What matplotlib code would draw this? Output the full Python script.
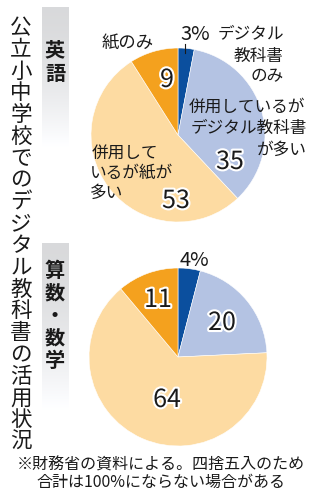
import numpy as np
import matplotlib.pyplot as plt
import matplotlib.patheffects as pe

plt.rcParams['font.family'] = ['Noto Sans CJK JP', 'DejaVu Sans']

# 公立小中学校でのデジタル教科書の活用状況（％）
categories = ['デジタル教科書のみ', '併用しているがデジタル教科書が多い',
              '併用しているが紙が多い', '紙のみ']
english = [3, 35, 53, 9]
math = [4, 20, 64, 11]
colors = ['#0b4f9e', '#b4c3e3', '#fddba2', '#f4a11e']

title = '公立小中学校でのデジタル教科書の活用状況'
subjects = ['英語', '算数・数学']
note = '※財務省の資料による。四捨五入のため\n合計は100%にならない場合がある'

W, H = 322, 500
fig = plt.figure(figsize=(W / 100, H / 100), dpi=100)
ink = '#1a1a1a'


def px(x, y):
    return x / W, 1 - y / H


def put(x, y, s, size, **kw):
    fig.text(*px(x, y), s, fontsize=size, color=ink, **kw)


def vertical(x, y0, pitch, s, size, **kw):
    for i, ch in enumerate(s):
        put(x, y0 + i * pitch, ch, size, ha='center', va='center', **kw)


def draw_pie(cx, cy, r, values):
    ax = fig.add_axes([(cx - r) / W, 1 - (cy + r) / H, 2 * r / W, 2 * r / H])
    ax.pie(values, colors=colors, startangle=90, counterclock=False, radius=1,
           wedgeprops=dict(linewidth=0.4, edgecolor='white'))
    ax.set_xlim(-1, 1)
    ax.set_ylim(-1, 1)
    ax.axis('off')
    return ax


# 科目ラベルの背景（上から白へのグラデーション）
grad = np.linspace(0, 1, 256).reshape(-1, 1)
for top, bottom in [(7, 147), (243, 410)]:
    bx = fig.add_axes([42 / W, 1 - bottom / H, 27 / W, (bottom - top) / H])
    shade = 0.85 + 0.15 * grad ** 1.6
    bx.imshow(np.dstack([shade, shade + 0.003, shade + 0.01]).clip(0, 1),
              aspect='auto', extent=[0, 1, 0, 1])
    bx.axis('off')

vertical(21, 28, 21.8, title, 15.5)
vertical(55, 50, 23, subjects[0], 14.5, fontweight='bold')
vertical(55, 270, 22.7, subjects[1], 14.5, fontweight='bold')

halo = [pe.withStroke(linewidth=3, foreground='white')]
lab = 12
num = 18

# 英語
draw_pie(178, 135, 87, english)
put(195, 34, f'{english[0]}%', 14.5, ha='center', va='center')
fig.add_artist(plt.Line2D([185 / W, 185 / W], [1 - 44 / H, 1 - 53 / H],
                          color=ink, linewidth=0.8))
put(284, 34, 'デジタル', lab, ha='right', va='center')
put(284, 56, '教科書', lab, ha='right', va='center')
put(284, 77, 'のみ', lab, ha='right', va='center')
put(128, 43, '紙のみ', lab + 0.5, ha='center', va='center')
put(167, 80, f'{english[3]}', num, ha='center', va='center', path_effects=halo)
put(305, 107, '併用しているが', lab, ha='right', va='center')
put(307, 128, 'デジタル教科書', lab, ha='right', va='center')
put(307, 150, 'が多い', lab, ha='right', va='center')
put(230, 162, f'{english[1]}', num, ha='center', va='center', path_effects=halo)
put(92, 153, '併用して', lab, ha='left', va='center')
put(90, 173, 'いるが紙が', lab, ha='left', va='center')
put(90, 193, '多い', lab, ha='left', va='center')
put(176, 201, f'{english[2]}', num, ha='center', va='center', path_effects=halo)

# 算数・数学
draw_pie(178, 357, 89, math)
put(194, 260, f'{math[0]}%', 14.5, ha='center', va='center')
put(222, 323, f'{math[1]}', num, ha='center', va='center', path_effects=halo)
put(167, 400, f'{math[2]}', num, ha='center', va='center', path_effects=halo)
put(158, 300, f'{math[3]}', num, ha='center', va='center', path_effects=halo)

put(161, 474, note, 11.5, ha='center', va='center', linespacing=1.0)

fig.savefig('out.png', dpi=100)
